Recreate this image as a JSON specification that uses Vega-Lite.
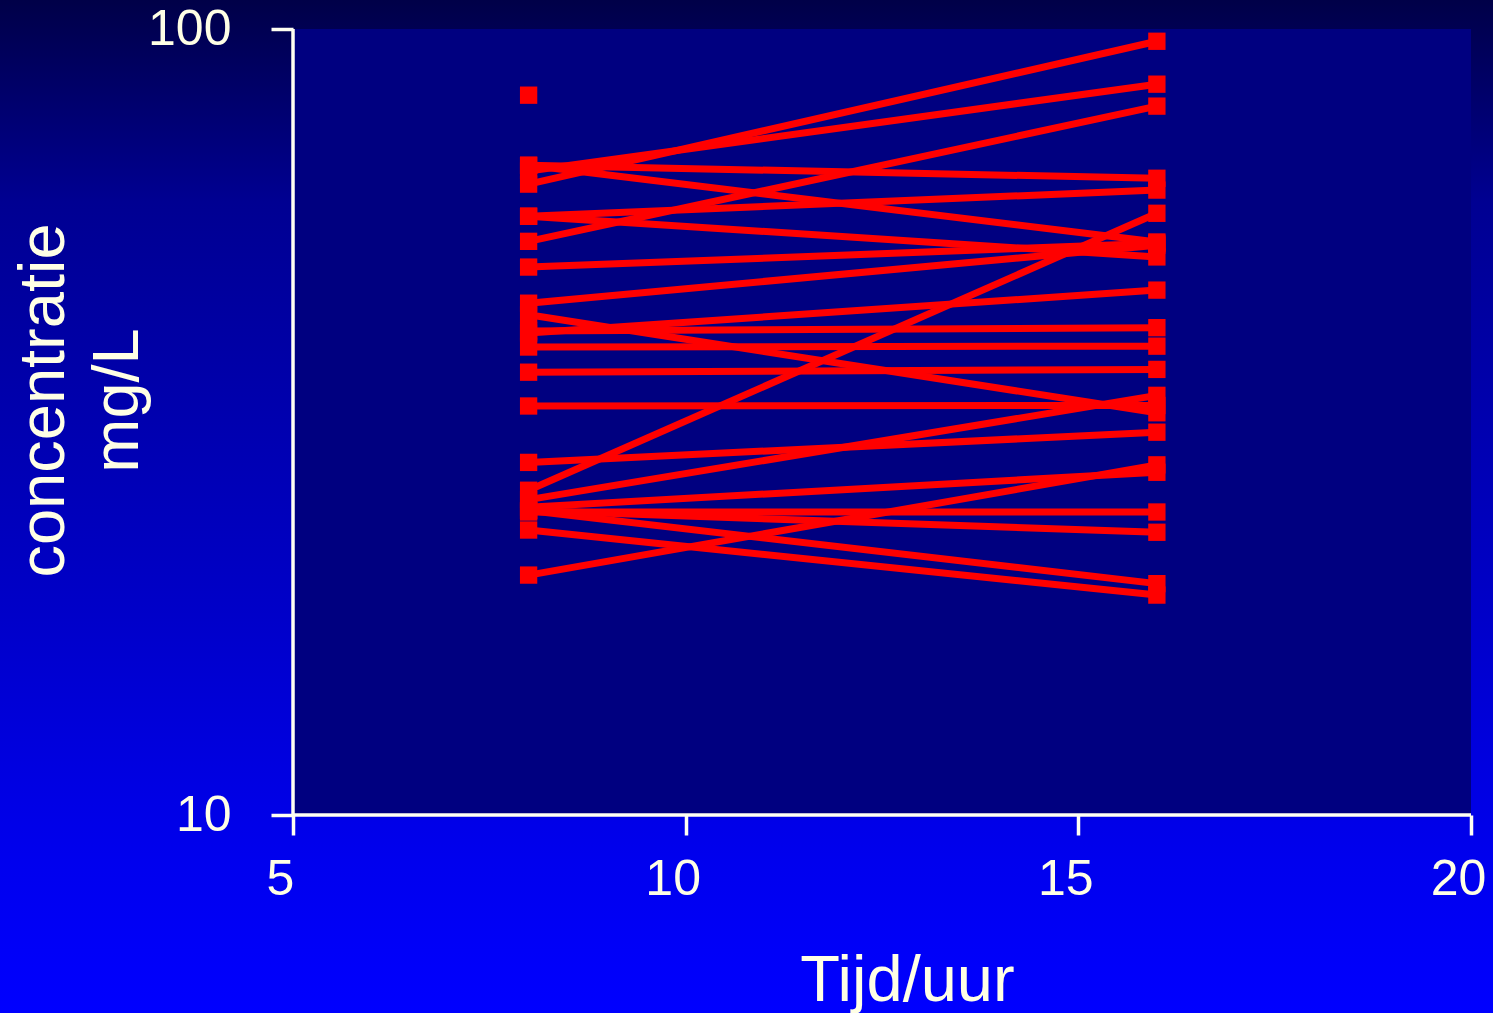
{
  "$schema": "https://vega.github.io/schema/vega-lite/v6.json",
  "width": 1493,
  "height": 1013,
  "padding": 0,
  "autosize": {"type": "none"},
  "background": "#0000a8",
  "config": {
    "view": {
      "stroke": null,
      "fill": {
        "gradient": "linear",
        "x1": 0, "y1": 0, "x2": 0, "y2": 1,
        "stops": [
          {"offset": 0, "color": "#000048"},
          {"offset": 0.2, "color": "#000092"},
          {"offset": 0.6, "color": "#0000c8"},
          {"offset": 0.85, "color": "#0000ee"},
          {"offset": 1, "color": "#0000ff"}
        ]
      }
    },
    "axis": {
      "grid": false,
      "domain": false,
      "labelFont": "Liberation Sans",
      "titleFont": "Liberation Sans",
      "labelColor": "#FFFFE5",
      "titleColor": "#FFFFE5",
      "tickColor": "#FFFFF2",
      "tickWidth": 3.5,
      "labelFontSize": 50,
      "titleFontSize": 65,
      "titleFontWeight": "normal",
      "labelOverlap": false,
      "labelFlush": false,
      "labelBound": false
    }
  },
  "data": {
    "values": [
      {"id": "p1", "t": 8, "c": 63.5}, {"id": "p1", "t": 16, "c": 96.5},
      {"id": "p2", "t": 8, "c": 66.0}, {"id": "p2", "t": 16, "c": 85.1},
      {"id": "p3", "t": 8, "c": 53.7}, {"id": "p3", "t": 16, "c": 79.8},
      {"id": "p4", "t": 8, "c": 67.1}, {"id": "p4", "t": 16, "c": 64.6},
      {"id": "p5", "t": 8, "c": 57.8}, {"id": "p5", "t": 16, "c": 62.4},
      {"id": "p6", "t": 8, "c": 67.1}, {"id": "p6", "t": 16, "c": 53.6},
      {"id": "p7", "t": 8, "c": 57.8}, {"id": "p7", "t": 16, "c": 51.3},
      {"id": "p8", "t": 8, "c": 49.8}, {"id": "p8", "t": 16, "c": 53.4},
      {"id": "p9", "t": 8, "c": 44.8}, {"id": "p9", "t": 16, "c": 53.1},
      {"id": "p10", "t": 8, "c": 41.05}, {"id": "p10", "t": 16, "c": 46.55},
      {"id": "p11", "t": 8, "c": 25.9}, {"id": "p11", "t": 16, "c": 58.3},
      {"id": "p12", "t": 8, "c": 41.3}, {"id": "p12", "t": 16, "c": 41.7},
      {"id": "p13", "t": 8, "c": 39.4}, {"id": "p13", "t": 16, "c": 39.5},
      {"id": "p14", "t": 8, "c": 36.6}, {"id": "p14", "t": 16, "c": 36.9},
      {"id": "p15", "t": 8, "c": 43.3}, {"id": "p15", "t": 16, "c": 32.5},
      {"id": "p16", "t": 8, "c": 33.15}, {"id": "p16", "t": 16, "c": 33.2},
      {"id": "p17", "t": 8, "c": 25.2}, {"id": "p17", "t": 16, "c": 34.2},
      {"id": "p18", "t": 8, "c": 28.1}, {"id": "p18", "t": 16, "c": 30.7},
      {"id": "p19", "t": 8, "c": 24.65}, {"id": "p19", "t": 16, "c": 27.3},
      {"id": "p20", "t": 8, "c": 20.2}, {"id": "p20", "t": 16, "c": 27.9},
      {"id": "p21", "t": 8, "c": 24.3}, {"id": "p21", "t": 16, "c": 24.3},
      {"id": "p22", "t": 8, "c": 24.4}, {"id": "p22", "t": 16, "c": 22.9},
      {"id": "p23", "t": 8, "c": 24.4}, {"id": "p23", "t": 16, "c": 19.7},
      {"id": "p24", "t": 8, "c": 23.05}, {"id": "p24", "t": 16, "c": 19.05},
      {"id": "p25", "t": 8, "c": 82.4}
    ]
  },
  "layer": [
    {
      "data": {"values": [{}]},
      "mark": {"type": "rect", "fill": "#000080"},
      "encoding": {
        "x": {"datum": 5, "type": "quantitative"},
        "x2": {"datum": 20},
        "y": {"datum": 10, "type": "quantitative"},
        "y2": {"datum": 100}
      }
    },
    {
      "data": {"values": [{}]},
      "mark": {"type": "rule", "color": "#FFFFF2", "strokeWidth": 3.5},
      "encoding": {
        "x": {"datum": 5, "type": "quantitative"},
        "y": {"datum": 10, "type": "quantitative"},
        "y2": {"datum": 100}
      }
    },
    {
      "data": {"values": [{}]},
      "mark": {"type": "rule", "color": "#FFFFF2", "strokeWidth": 3.5},
      "encoding": {
        "x": {"datum": 5, "type": "quantitative"},
        "x2": {"datum": 20},
        "y": {"datum": 10, "type": "quantitative"}
      }
    },
    {
      "mark": {"type": "line", "color": "#ff0000", "strokeWidth": 7},
      "encoding": {
        "x": {
          "field": "t", "type": "quantitative",
          "scale": {"type": "linear", "domain": [1.269, 20.28], "nice": false, "zero": false},
          "axis": {
            "zindex": 2,
            "values": [5, 10, 15, 20],
            "format": "d",
            "orient": "bottom",
            "offset": -198,
            "tickSize": 20,
            "labelPadding": 19,
            "labelOffset": -13,
            "title": "Tijd/uur",
            "titleX": 907,
            "titleY": 185,
            "titleAlign": "center",
            "titleBaseline": "alphabetic"
          }
        },
        "y": {
          "field": "c", "type": "quantitative",
          "scale": {"type": "log", "domain": [5.6, 108.9], "nice": false},
          "axis": {
            "zindex": 2,
            "values": [10, 100],
            "orient": "left",
            "offset": -293,
            "tickSize": 22,
            "labelPadding": 40,
            "format": "d",
            "title": ["concentratie", "mg/L"],
            "titleAngle": 270,
            "titleX": -230,
            "titleY": 400,
            "titleAlign": "center",
            "titleBaseline": "alphabetic",
            "titleLineHeight": 74
          }
        },
        "detail": {"field": "id"}
      }
    },
    {
      "mark": {"type": "square", "color": "#ff0000", "size": 300, "filled": true, "opacity": 1},
      "encoding": {
        "x": {"field": "t", "type": "quantitative"},
        "y": {"field": "c", "type": "quantitative"}
      }
    }
  ]
}
